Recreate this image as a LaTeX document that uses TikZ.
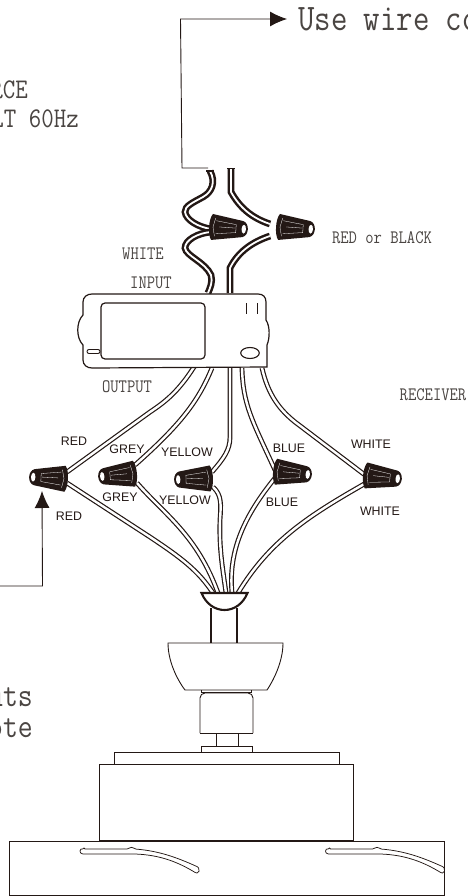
\documentclass[tikz,border=0pt]{standalone}
\usepackage{fontspec}
\usetikzlibrary{arrows.meta}
\newfontfamily\lblfont{Liberation Sans}
\newfontfamily\monoface[FakeStretch=0.85]{Latin Modern Mono}
\definecolor{ink}{HTML}{231815}
\definecolor{txt}{HTML}{4A4542}
\newcommand{\monosize}[1]{\fontsize{#1}{#1}\monoface}
\tikzset{
  x=1pt,y=-1pt,
  wire/.style={draw=ink,line width=1.2pt,double=white,double distance=2.4pt},
  fatwire/.style={draw=ink,line width=2.5pt,double=white,double distance=1.8pt},
  thin line/.style={draw=ink,line width=.9pt},
  heavy line/.style={draw=ink,line width=2.1pt},
  callout/.style={draw=ink,line width=.9pt,-{Latex[length=17pt,width=15pt]}},
  mono/.style={text=txt,inner sep=0pt,font=\monosize{19}},
  biglabel/.style={text=txt,inner sep=0pt,anchor=base east,font=\monosize{28.5}},
  midlabel/.style={text=txt,inner sep=0pt,anchor=base east,font=\monosize{34}},
  colourlabel/.style={text=ink,inner sep=0pt,font=\lblfont\fontsize{12.4}{12.4}\selectfont},
  wirenut/.pic={
    \fill[ink] (-15,-13) -- (13,-8.5) -- (16,-8) .. controls (22.5,-6) and (22.5,6) .. (16,8) -- (13,8.5) -- (-15,13)
       .. controls (-19,8) and (-19,-8) .. (-15,-13) -- cycle;
    \draw[white,line width=.3pt] (-12,-9) -- (-14,0) -- (-12,9);
    \draw[white,line width=.3pt] (-11,-6.5) -- (9,-4) (-11,6.5) -- (9,4) (-8,-.5) -- (8,-.5) (9,-4) -- (9,4);
    \fill[white] (16.8,0) ellipse [x radius=2.2,y radius=4.4];
  }
}
\begin{document}
\begin{tikzpicture}
\useasboundingbox (0,0) rectangle (467,896);
\clip (0,0) rectangle (467,896);
% named wire ends
\coordinate (inA) at (210,171); \coordinate (inB) at (231,169);
\coordinate (nutLa) at (211,229); \coordinate (nutLb) at (211,232);
\coordinate (nutRa) at (270,224); \coordinate (nutRb) at (270,236);
\coordinate (boxA) at (208,293); \coordinate (boxB) at (230,293);
\coordinate (outR) at (194,367); \coordinate (outG) at (212,368); \coordinate (outY) at (230,368);
\coordinate (outB) at (242,368); \coordinate (outW) at (262,368);
\coordinate (nRu) at (67,472); \coordinate (nRd) at (67,483);
\coordinate (nGu) at (135,465); \coordinate (nGd) at (137,483);
\coordinate (nYu) at (212,472); \coordinate (nYd) at (213,487);
\coordinate (nBu) at (275,470); \coordinate (nBd) at (275,478);
\coordinate (nWu) at (365,475); \coordinate (nWd) at (366,483);
\coordinate (cR) at (213,593); \coordinate (cG) at (218,593); \coordinate (cY) at (226,593);
\coordinate (cB) at (232,593); \coordinate (cW) at (238,593);
% output wires
\draw[wire] (outR) .. controls (178,392) and (165,402) .. (150,412) -- (nRu);
\draw[wire] (outG) .. controls (198,402) and (180,425) .. (nGu);
\draw[wire] (outY) -- (230,437) .. controls (230,450) and (224,458) .. (nYu);
\draw[wire] (outB) .. controls (243,405) and (252,420) .. (nBu);
\draw[wire] (outW) .. controls (268,395) and (280,410) .. (295,422) -- (nWu);
\draw[wire] (nRd) -- (150,537) .. controls (180,557) and (198,570) .. (cR);
\draw[wire] (nGd) .. controls (165,515) and (197,535) .. (cG);
\draw[wire] (nYd) .. controls (222,495) and (221,505) .. (220,520) .. controls (219,550) and (223,570) .. (cY);
\draw[wire] (nBd) .. controls (245,515) and (228,550) .. (cB);
\draw[wire] (nWd) .. controls (310,515) and (270,540) .. (cW);
% input wires
\draw[fatwire] (inA) .. controls (216,182) and (212,192) .. (203,197) .. controls (192,203) and (185,206) .. (185,212) .. controls (186,220) and (198,227) .. (nutLa);
\draw[fatwire] (nutLb) .. controls (198,233) and (185,240) .. (185,248) .. controls (186,256) and (205,262) .. (211,275) .. controls (213,282) and (210,288) .. (boxA);
\draw[fatwire] (inB) -- (231,192) .. controls (240,208) and (252,218) .. (nutRa);
\draw[fatwire] (nutRb) .. controls (252,242) and (238,252) .. (230,268) -- (boxB);
\draw[draw=ink,line width=1.8pt] (227,168.5) -- (235,168.5) (206,171) -- (214,171);
% receiver
\draw[fill=white,draw=ink,line width=1.2pt] (92,294) -- (258,294) .. controls (263,294) and (266,297) .. (266,302) -- (266,320)
  .. controls (270,326) and (270,338) .. (267,345) -- (267,367) -- (92,368) .. controls (87,368) and (83,365) .. (83,360)
  -- (83,345) .. controls (76,338) and (76,322) .. (83,315) -- (83,302) .. controls (83,297) and (87,294) .. (92,294) -- cycle;
\draw[fill=white,draw=ink,line width=1.2pt,rounded corners=4pt] (101,303) rectangle (205,359);
\draw[draw=ink,line width=.9pt,rounded corners=2pt] (87,349.5) rectangle (100,353.5);
\draw[draw=ink,line width=1pt] (246,303) -- (246,314) (257,303) -- (257,314);
\draw[draw=ink,line width=1.1pt] (250,353) ellipse [x radius=9.3,y radius=5.5];
% wire nuts
\pic[rotate=-4] at (227,228) {wirenut};
\pic[rotate=-4] at (294,228) {wirenut};
\pic[xscale=-1,rotate=3] at (50,478) {wirenut};
\pic[xscale=-1,rotate=-5] at (119,475) {wirenut};
\pic[xscale=-1,rotate=-2] at (195,479) {wirenut};
\pic[rotate=-5] at (291,473) {wirenut};
\pic[rotate=-6] at (381,477) {wirenut};
% canopy and mount
\draw[heavy line] (211,608) -- (211,643) (237,608) -- (237,643);
\draw[heavy line,fill=white] (201.5,593) -- (247.5,593) .. controls (243,604) and (234,610) .. (224.5,610) .. controls (215,610) and (206,604) .. (201.5,593) -- cycle;
\draw[thin line,fill=white] (168,643) -- (283,643) .. controls (283,660) and (275,678) .. (267,690) -- (185,690) .. controls (176,678) and (168,660) .. (168,643) -- cycle;
\draw[thin line] (201,690) -- (201,692) -- (251,692) -- (251,690);
\draw[thin line,rounded corners=5pt] (200,733) -- (200,693) -- (253,693) -- (253,733);
\draw[thin line] (200,733) -- (253,733);
\draw[thin line] (216,733) -- (216,746) (238,733) -- (238,746);
\draw[thin line] (201,751.5) -- (201,746) -- (252,746) -- (252,751.5);
\draw[thin line] (114,764) -- (114,752) -- (339,752) -- (339,764);
\draw[thin line] (99,764) rectangle (353,841);
\draw[draw=ink,line width=1.3pt] (99,841) -- (353,841);
\draw[thin line] (9,841) rectangle (444,895);
% blade brackets
\begin{scope}
\clip (9,841) rectangle (444,895);
\foreach \dx in {0,245.5}{
\draw[draw=ink,line width=.75pt,rounded corners=1pt,xshift=\dx pt] (84,849) -- (128,849) .. controls (130,847) and (133,847) .. (135,849)
 .. controls (160,851) and (178,858) .. (198,867) .. controls (200,870) and (199,873) .. (196,873) .. controls (178,862) and (160,855) .. (135,854) -- (84,854) .. controls (79,854) and (79,848) .. (84,849) -- cycle;
}
\end{scope}
% callouts
\node[text=txt,inner sep=0pt,anchor=base west,font=\monosize{37.5}] (use) at (298,31) {Use wire co};
\coordinate (tapA) at (208,168);
\coordinate (tapB) at (0,586);
\coordinate (redNut) at (42,491);
\draw[callout] (tapA) -- (182,168) -- (180.5,19) -- (287,19);
\draw[callout] (tapB) -- (42.5,586) -- (redNut);
% texts
\node[biglabel] (src1) at (28,99) {RCE};
\node[biglabel] (src2) at (79,128) {LT 60Hz};
\node[midlabel] (rem1) at (33,706) {uts};
\node[midlabel] (rem2) at (33,737) {ote};
\node[mono] (rb) at (382,238) {RED or BLACK};
\node[mono] (wh) at (143,254) {WHITE};
\node[mono] (inp) at (151,283) {INPUT};
\node[mono] (outp) at (127,387) {OUTPUT};
\node[mono] (rcv) at (433,395) {RECEIVER};
\node[colourlabel] (l1) at (74,441) {RED};
\node[colourlabel] (l2) at (127,449) {GREY};
\node[colourlabel] (l3) at (187,452) {YELLOW};
\node[colourlabel] (l4) at (289,448) {BLUE};
\node[colourlabel] (l5) at (371,444) {WHITE};
\node[colourlabel] (l6) at (120,497) {GREY};
\node[colourlabel] (l7) at (185,500) {YELLOW};
\node[colourlabel] (l8) at (282,502) {BLUE};
\node[colourlabel] (l9) at (380,511) {WHITE};
\node[colourlabel] (l10) at (69,516) {RED};
\end{tikzpicture}
\end{document}
